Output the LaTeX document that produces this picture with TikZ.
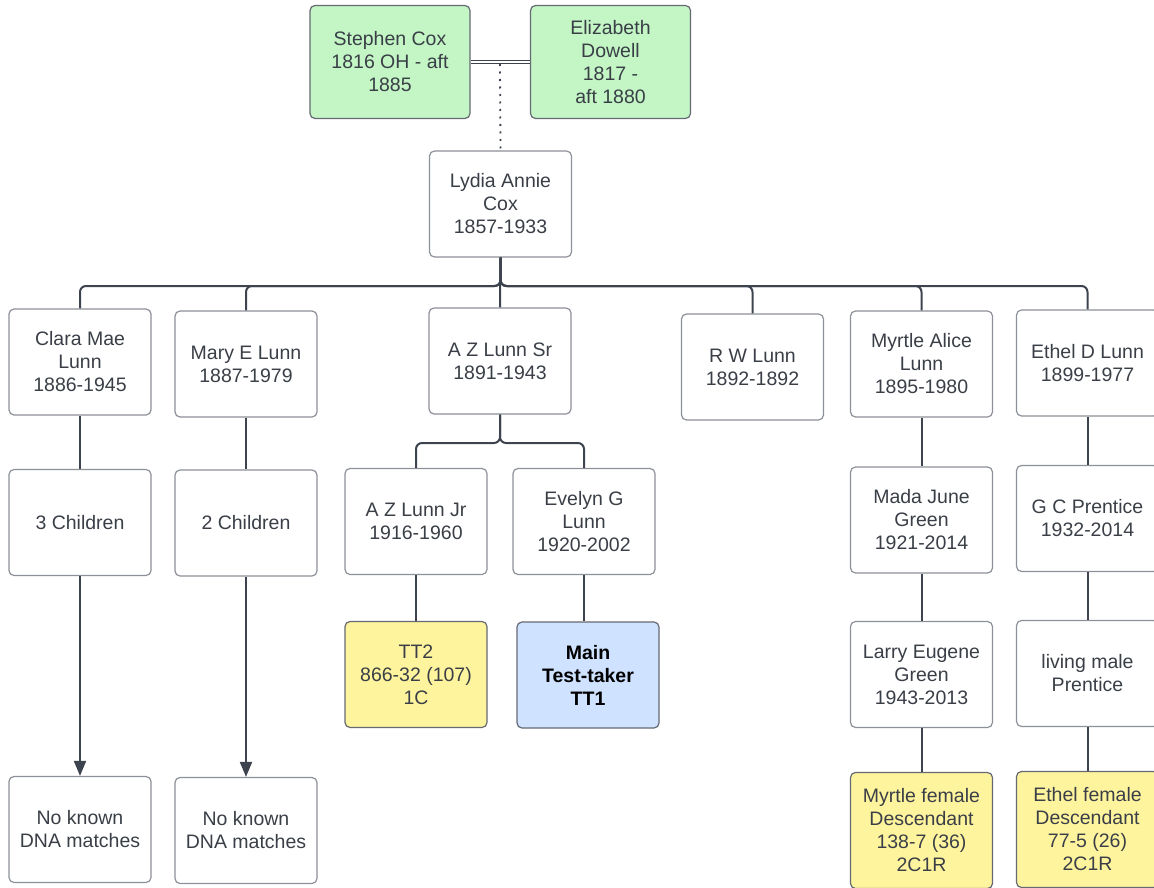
\documentclass[tikz,border=0pt]{standalone}
\usepackage{fontspec}
\setmainfont{Liberation Sans}
\usetikzlibrary{arrows.meta}
\definecolor{LineGray}{HTML}{3D4450}
\definecolor{BoxEdge}{HTML}{8C9098}
\definecolor{TextGray}{HTML}{3A3F47}
\definecolor{Mint}{HTML}{C3F5C5}
\definecolor{Lemon}{HTML}{FFF49E}
\definecolor{Sky}{HTML}{CFE2FF}

\begin{document}
\begin{tikzpicture}[x=1pt,y=-1pt,
  font=\fontsize{19.5}{23}\selectfont,text=TextGray,
  person/.style={draw=BoxEdge,line width=1.2pt,fill=white,rounded corners=5pt,
    align=center,minimum width=142pt,minimum height=106pt,inner sep=2pt},
  ancestor/.style={person,draw=LineGray!80,fill=Mint,minimum width=160pt,minimum height=113pt},
  match/.style={person,draw=LineGray!80,fill=Lemon},
  tester/.style={person,draw=LineGray!80,fill=Sky,text=black,
    font=\fontsize{19.5}{23}\selectfont\bfseries},
  link/.style={draw=LineGray,line width=2pt,rounded corners=6pt}]
  \useasboundingbox (0,0) rectangle (1154,888);
  \clip (0,0) rectangle (1154,888);

  % Top couple
  \node[ancestor] (stephen) at (390,62) {Stephen Cox\\1816 OH - aft\\1885};
  \node[ancestor] (elizabeth) at (610.5,62) {Elizabeth\\Dowell\\1817 -\\aft 1880};
  \draw[LineGray,line width=0.9pt,double=white,double distance=2.2pt]
    (stephen.east) -- (elizabeth.west);
  \coordinate (union) at (500,64);

  % Lydia and her children
  \node[person] (lydia) at (500.5,204) {Lydia Annie\\Cox\\1857-1933};
  \draw[LineGray,line width=1.8pt,dash pattern=on 2pt off 5.5pt] (union) -- (lydia.north);

  \node[person] (clara) at (80,362) {Clara Mae\\Lunn\\1886-1945};
  \node[person] (mary) at (246,364) {Mary E Lunn\\1887-1979};
  \node[person] (azsr) at (500,361) {A Z Lunn Sr\\1891-1943};
  \node[person] (rw) at (752.5,367) {R W Lunn\\1892-1892};
  \node[person] (myrtle) at (921.5,364) {Myrtle Alice\\Lunn\\1895-1980};
  \node[person] (ethel) at (1087.5,363) {Ethel D Lunn\\1899-1977};

  \coordinate (lbus) at (500.5,286);
  \draw[link] (lydia.south) -- (azsr.north);
  \foreach \kid in {clara,mary,rw,myrtle,ethel}
    \draw[link] (lydia.south) -- (lbus) -| (\kid.north);

  % Grandchildren
  \node[person] (three) at (80,522.5) {3 Children};
  \node[person] (two) at (246,523) {2 Children};
  \node[person] (azjr) at (416,521.5) {A Z Lunn Jr\\1916-1960};
  \node[person] (evelyn) at (584,521.5) {Evelyn G\\Lunn\\1920-2002};
  \node[person] (mada) at (921.5,520) {Mada June\\Green\\1921-2014};
  \node[person] (gc) at (1087.5,518.5) {G C Prentice\\1932-2014};

  \coordinate (srbus) at (500,443);
  \foreach \kid in {azjr,evelyn}
    \draw[link] (azsr.south) -- (srbus) -| (\kid.north);
  \draw[link] (clara) -- (three);
  \draw[link] (mary) -- (two);
  \draw[link] (myrtle) -- (mada);
  \draw[link] (ethel) -- (gc);

  % Test-takers and descendants
  \node[match] (tt2) at (416,674.5) {TT2\\866-32 (107)\\1C};
  \node[tester] (main) at (588,675) {Main\\Test-taker\\TT1};
  \node[person] (larry) at (921.5,674.5) {Larry Eugene\\Green\\1943-2013};
  \node[person] (living) at (1087.5,673.5) {living male\\Prentice};

  \draw[link] (azjr) -- (tt2);
  \draw[link] (evelyn.south) -- (evelyn.south |- main.north);
  \draw[link] (mada) -- (larry);
  \draw[link] (gc) -- (living);

  \node[person] (noneA) at (80,829.5) {No known\\DNA matches};
  \node[person] (noneB) at (246,830.5) {No known\\DNA matches};
  \node[match,minimum height=116pt] (myrtlefem) at (921.5,830.5)
    {Myrtle female\\Descendant\\138-7 (36)\\2C1R};
  \node[match,minimum height=116pt] (ethelfem) at (1087.5,829.5)
    {Ethel female\\Descendant\\77-5 (26)\\2C1R};

  \draw[link,-{Triangle[width=12pt,length=15pt]}] (three) -- (noneA);
  \draw[link,-{Triangle[width=12pt,length=15pt]}] (two) -- (noneB);
  \draw[link] (larry) -- (myrtlefem);
  \draw[link] (living) -- (ethelfem);
\end{tikzpicture}
\end{document}
